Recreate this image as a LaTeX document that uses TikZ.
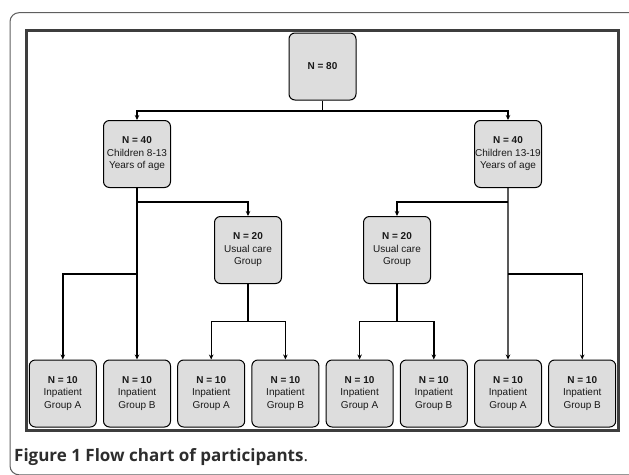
\documentclass[tikz,border=0pt]{standalone}
\usepackage{fontspec}
\setmainfont{Liberation Sans}
\newfontfamily\captionfont{Open Sans}
\usetikzlibrary{arrows.meta}
\definecolor{flowgray}{RGB}{221,221,221}
\definecolor{flowframe}{RGB}{62,62,62}
\definecolor{flowborder}{RGB}{95,95,95}
\definecolor{flowtext}{RGB}{25,25,25}
\definecolor{captiongray}{RGB}{45,45,45}

\begin{document}
\begin{tikzpicture}[>={Stealth[length=5pt,width=4.5pt]},x=1pt,y=-1pt,
 flowbox/.style={draw=black,fill=flowgray,rounded corners=6pt,line width=1pt,
  minimum width=67pt,minimum height=67pt,inner sep=0pt,align=center,
  text=flowtext,font=\fontsize{10}{12.5}\selectfont},
 link/.style={line width=1.4pt}]
% 1pt = 1px of the 629x474 figure, y grows downwards
\useasboundingbox (0,0) rectangle (629,474);
\clip (0,0) rectangle (629,474);
\draw[flowborder,line width=1pt,rounded corners=9pt] (10,12.7) rectangle (660,474.8);
\draw[flowframe,line width=3pt] (26.5,30.5) rectangle (618,430.5);
\node[flowbox] (n80) at (322.5,66.5) {\textbf{N = 80}};
\node[flowbox] (young) at (137,154) {\textbf{N = 40}\\Children 8-13\\Years of age};
\node[flowbox] (old) at (508,154) {\textbf{N = 40}\\Children 13-19\\Years of age};
\node[flowbox] (usualA) at (248,250) {\textbf{N = 20}\\Usual care\\Group};
\node[flowbox] (usualB) at (397,250) {\textbf{N = 20}\\Usual care\\Group};
\foreach \i/\g in {1/A,2/B,3/A,4/B,5/A,6/B,7/A,8/B}
 \node[flowbox] (g\i) at ({322.5+(\i-4.5)*74.2},393.5) {\textbf{N = 10}\\Inpatient\\Group \g};
% split points of the elbow connectors
\coordinate (split0) at (322.5,111);
\coordinate (split1) at (137,202);
\coordinate (split2) at (137,274);
\coordinate (split3) at (248,321.7);
\coordinate (split4) at (508,202);
\coordinate (split5) at (508,274);
\coordinate (split6) at (397,321.7);
\draw[link] (n80.south)--(split0);
\draw[link,->] (split0) -| (young.north);
\draw[link,->] (split0) -| (old.north);
\draw[link,->] (young.south)--(g2.north);
\draw[link,->] (split1) -| (usualA.north);
\draw[link,->] (split2) -| (g1.north);
\draw[link] (usualA.south)--(split3);
\draw[link,->] (split3) -| (g3.north);
\draw[link,->] (split3) -| (g4.north);
\draw[link,->] (old.south)--(g7.north);
\draw[link,->] (split4) -| (usualB.north);
\draw[link,->] (split5) -| (g8.north);
\draw[link] (usualB.south)--(split6);
\draw[link,->] (split6) -| (g5.north);
\draw[link,->] (split6) -| (g6.north);
\node[anchor=base west,inner sep=0pt,text=captiongray,
 font=\captionfont\fontsize{17}{20}\selectfont] (caption) at (14,461)
 {\textbf{Figure 1 Flow chart of participants}.};
\end{tikzpicture}
\end{document}
